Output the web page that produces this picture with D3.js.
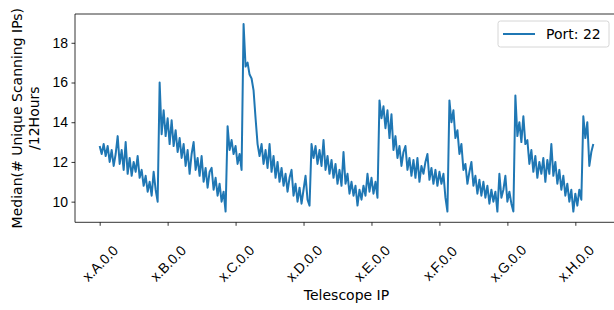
<!DOCTYPE html>
<html>
<head>
<meta charset="utf-8">
<script src="https://cdn.jsdelivr.net/npm/d3@7"></script>
<style>
    body { margin: 0; background: #fff; }
    svg { display: block; font-family: "DejaVu Sans", sans-serif; }
    .axis path, .axis line { stroke: #000; stroke-width: 0.8; }
    .axis text { fill: #000; font-size: 14px; }
</style>
</head>
<body>
<div id="chart"></div>
<script>
'use strict';

// x tick labels and the sample index each one sits on
const tickLabels = ['x.A.0.0', 'x.B.0.0', 'x.C.0.0', 'x.D.0.0', 'x.E.0.0', 'x.F.0.0', 'x.G.0.0', 'x.H.0.0'];
const tickIndex = [0, 34, 68, 102, 136, 170, 204, 238];

// median unique scanning IPs per 12 hours
const segA = [12.8, 12.4, 12.9, 12.3, 12.8, 12.0, 12.6, 11.8, 12.4, 13.3,
    11.9, 12.6, 11.6, 13.0, 11.4, 12.2, 11.3, 12.0, 11.5, 12.3,
    11.2, 11.6, 10.8, 11.3, 10.5, 11.0, 10.3, 11.5, 10.6, 10.0];
const segB = [16.0, 13.4, 14.6, 13.3, 14.2, 12.9, 14.1, 12.8, 13.6, 12.5,
    13.2, 12.2, 12.9, 11.8, 12.6, 11.4, 12.4, 13.0, 11.6, 12.2,
    11.3, 12.3, 11.0, 11.7, 10.7, 11.5, 11.7, 10.6, 11.2, 10.3,
    10.9, 10.0, 10.5, 9.5];
const segC = [13.8, 12.6, 13.1, 12.4, 12.8, 11.9, 12.4, 11.6, 18.95, 16.8,
    17.0, 16.4, 16.2, 15.6, 14.2, 12.9, 12.3, 12.9, 11.9, 12.6,
    11.7, 12.9, 11.5, 12.3, 11.2, 12.0, 11.0, 11.7, 10.8, 11.4,
    10.5, 11.2, 11.6, 10.3, 10.9, 10.0, 10.7, 9.9, 10.6, 11.3,
    10.1, 9.8];
const segD = [12.9, 12.2, 12.8, 11.9, 12.6, 11.8, 13.1, 11.6, 12.3, 11.4,
    12.1, 11.2, 11.9, 10.9, 11.6, 10.8, 12.5, 10.9, 11.4, 10.4,
    11.0, 10.3, 10.8, 9.8, 10.6, 10.1, 10.8, 10.3, 11.4, 10.5,
    11.2, 10.4, 11.0, 10.2];
const segE = [15.1, 14.2, 14.8, 13.7, 14.6, 13.2, 14.4, 12.6, 13.3, 12.2,
    12.8, 11.8, 12.5, 12.8, 11.6, 12.2, 11.3, 12.1, 11.2, 12.2,
    11.0, 11.8, 11.4, 12.0, 12.4, 11.1, 11.7, 10.9, 11.6, 10.8,
    11.5, 10.9, 11.4, 10.2, 9.5];
const segF = [15.1, 14.0, 14.6, 13.2, 13.6, 12.4, 12.9, 11.6, 11.9, 10.9,
    11.5, 12.0, 10.8, 11.3, 10.4, 11.1, 10.3, 11.0, 10.2, 10.8,
    9.9, 10.6, 10.0, 10.5, 9.5, 11.4, 10.2, 10.6, 11.3, 10.0,
    10.5, 9.9, 9.5];
const segG = [15.35, 13.3, 14.0, 13.0, 14.3, 12.9, 13.1, 11.9, 12.6, 11.5,
    12.3, 11.2, 12.0, 11.4, 12.2, 11.0, 12.1, 11.4, 12.9, 11.3,
    12.0, 10.9, 11.6, 10.6, 11.3, 10.3, 10.9, 10.0, 10.6, 9.5,
    10.4, 9.8, 10.6, 10.1];
const segH = [14.3, 13.2, 14.0, 11.8, 12.5, 12.9];

const medianIPs = [].concat(segA, segB, segC, segD, segE, segF, segG, segH);

const seriesLabel = 'Port: 22';
const xTitle = 'Telescope IP';
const yTitle = ['Median(# Unique Scanning IPs)', '/12Hours'];

class PortChart {
    constructor(divId, width, height) {
        this.margin = { top: 14, left: 75, bottomY: 222.3, right: 618 };

        this.svg = d3.select('#' + divId).append('svg')
            .attr('width', width)
            .attr('height', height);

        let n = medianIPs.length - 1;
        this.x = d3.scaleLinear()
            .domain([-0.05 * n, 1.05 * n])
            .range([this.margin.left, this.margin.right]);

        this.y = d3.scaleLinear()
            .domain([8.96, 19.45])
            .range([this.margin.bottomY, this.margin.top]);
    }

    renderAxis() {
        let self = this;
        let m = self.margin;

        // y axis
        let yAxis = self.svg.append('g')
            .attr('class', 'axis')
            .attr('transform', 'translate(' + m.left + ',0)')
            .call(d3.axisLeft(self.y).tickValues([10, 12, 14, 16, 18]).tickSize(3.5).tickPadding(3.5));
        yAxis.select('.domain').remove();

        // x axis
        let xAxis = self.svg.append('g')
            .attr('class', 'axis')
            .attr('transform', 'translate(0,' + m.bottomY + ')')
            .call(d3.axisBottom(self.x)
                .tickValues(tickIndex)
                .tickFormat(function (d, i) { return tickLabels[i]; })
                .tickSize(3.5));
        xAxis.select('.domain').remove();
        xAxis.selectAll('text')
            .attr('y', 0)
            .attr('dy', null)
            .attr('text-anchor', 'middle')
            .attr('dominant-baseline', 'central')
            .attr('transform', 'translate(0,41) rotate(-45)');

        // spines
        let spines = self.svg.append('g')
            .attr('fill', 'none')
            .attr('stroke', '#000')
            .attr('stroke-width', 0.8);
        spines.append('path')
            .attr('d', 'M' + m.right + ',' + m.top + 'H' + m.left + 'V' + m.bottomY + 'H' + m.right);

        // titles
        self.svg.append('text')
            .attr('x', (m.left + m.right) / 2)
            .attr('y', 295)
            .attr('text-anchor', 'middle')
            .attr('dominant-baseline', 'central')
            .style('font-size', '14px')
            .text(xTitle);

        let cy = (m.top + m.bottomY) / 2;
        self.svg.selectAll('.ytitle')
            .data(yTitle).enter()
            .append('text')
            .attr('class', 'ytitle')
            .attr('text-anchor', 'middle')
            .attr('dominant-baseline', 'central')
            .attr('transform', function (d, i) {
                return 'translate(' + (17 + i * 17) + ',' + cy + ') rotate(-90)';
            })
            .style('font-size', '14px')
            .text(function (d) { return d; });
    }

    render() {
        let self = this;

        let line = d3.line()
            .x(function (d, i) { return self.x(i); })
            .y(function (d) { return self.y(d); });

        self.svg.append('path')
            .datum(medianIPs)
            .attr('fill', 'none')
            .attr('stroke', '#1f77b4')
            .attr('stroke-width', 2)
            .attr('stroke-linejoin', 'round')
            .attr('d', line);

        this.renderAxis();
        this.renderLegend();
    }

    renderLegend() {
        let g = this.svg.append('g')
            .attr('transform', 'translate(498,21)');
        g.append('rect')
            .attr('width', 111)
            .attr('height', 26)
            .attr('rx', 2.5)
            .attr('fill', '#fff')
            .attr('fill-opacity', 0.8)
            .attr('stroke', '#cccccc')
            .attr('stroke-width', 0.8);
        g.append('line')
            .attr('x1', 5).attr('x2', 37)
            .attr('y1', 13).attr('y2', 13)
            .attr('stroke', '#1f77b4')
            .attr('stroke-width', 2);
        g.append('text')
            .attr('x', 48)
            .attr('y', 13)
            .attr('dominant-baseline', 'central')
            .style('font-size', '14px')
            .text(seriesLabel);
    }
}

let chart = new PortChart('chart', 614, 310);
chart.render();
</script>
</body>
</html>
